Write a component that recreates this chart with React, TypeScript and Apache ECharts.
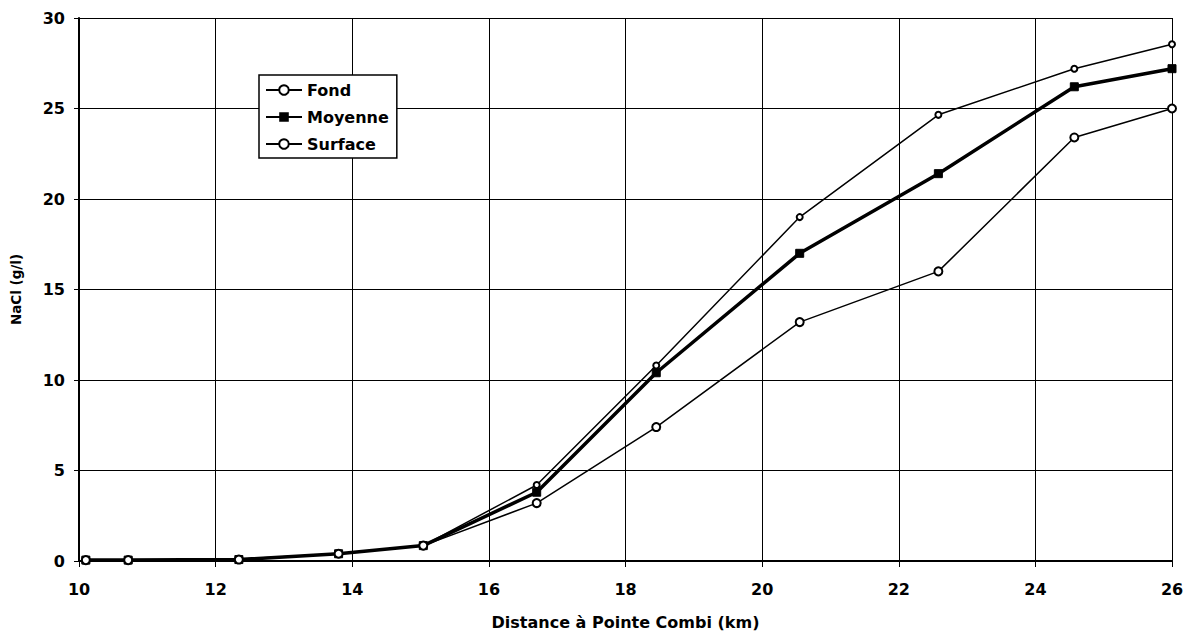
import React, { useEffect, useRef } from "react";
import * as echarts from "echarts";

const distances = [10.1, 10.72, 12.34, 13.8, 15.04, 16.7, 18.45, 20.55, 22.58, 24.57, 26.0];
const fond = [0.05, 0.05, 0.1, 0.4, 0.85, 4.2, 10.8, 19.0, 24.65, 27.2, 28.55];
const moyenne = [0.05, 0.05, 0.08, 0.4, 0.85, 3.8, 10.4, 17.0, 21.4, 26.2, 27.2];
const surface = [0.05, 0.05, 0.08, 0.4, 0.85, 3.2, 7.4, 13.2, 16.0, 23.4, 25.0];

const seriesNames = ["Fond", "Moyenne", "Surface"];
const xTitle = "Distance à Pointe Combi (km)";
const yTitle = "NaCl (g/l)";

const FONT = "'DejaVu Sans', 'Liberation Sans', Arial, sans-serif";

export default function App() {
  const ref = useRef<HTMLDivElement>(null);
  useEffect(() => {
    if (!ref.current) return;
    const chart = echarts.init(ref.current, null, { renderer: "svg" });
    const pair = (ys: number[]) => distances.map((x, i) => [x, ys[i]]);
    chart.setOption({
      animation: false,
      backgroundColor: "#fff",
      textStyle: { fontFamily: FONT, color: "#000" },
      grid: { left: 79, right: 20, top: 18, bottom: 77 },
      legend: {
        orient: "vertical",
        left: 259,
        top: 75,
        data: seriesNames,
        backgroundColor: "#fff",
        borderColor: "#000",
        borderWidth: 1.5,
        padding: [7, 8, 6, 6],
        itemGap: 11,
        itemWidth: 36,
        itemHeight: 12,
        textStyle: { fontFamily: FONT, fontWeight: "bold", fontSize: 16, color: "#000" },
      },
      xAxis: {
        type: "value",
        min: 10,
        max: 26,
        interval: 2,
        name: xTitle,
        nameLocation: "middle",
        nameGap: 53,
        nameTextStyle: { fontFamily: FONT, fontWeight: "bold", fontSize: 16, color: "#000" },
        axisLine: { lineStyle: { color: "#000", width: 2 } },
        axisTick: { show: true, length: 6, lineStyle: { color: "#000", width: 1 } },
        axisLabel: { fontFamily: FONT, fontWeight: "bold", fontSize: 16, color: "#000", margin: 20 },
        splitLine: { show: true, lineStyle: { color: "#000", width: 1 } },
      },
      yAxis: {
        type: "value",
        min: 0,
        max: 30,
        interval: 5,
        name: yTitle,
        nameLocation: "middle",
        nameGap: 56,
        nameTextStyle: { fontFamily: FONT, fontWeight: "bold", fontSize: 13.5, color: "#000" },
        axisLine: { show: true, lineStyle: { color: "#000", width: 2 } },
        axisTick: { show: true, length: 5, lineStyle: { color: "#000", width: 1 } },
        axisLabel: { fontFamily: FONT, fontWeight: "bold", fontSize: 16, color: "#000", margin: 14 },
        splitLine: { show: true, lineStyle: { color: "#000", width: 1 } },
      },
      series: [
        {
          name: seriesNames[0],
          type: "line",
          data: pair(fond),
          symbol: "emptyCircle",
          symbolSize: 6,
          lineStyle: { color: "#000", width: 1.5 },
          itemStyle: { color: "#000", borderColor: "#000", borderWidth: 1.5 },
          z: 3,
        },
        {
          name: seriesNames[1],
          type: "line",
          data: pair(moyenne),
          symbol: "rect",
          symbolSize: 8,
          lineStyle: { color: "#000", width: 3.5 },
          itemStyle: { color: "#000", borderColor: "#000" },
          z: 2,
        },
        {
          name: seriesNames[2],
          type: "line",
          data: pair(surface),
          symbol: "emptyCircle",
          symbolSize: 8,
          lineStyle: { color: "#000", width: 1.5 },
          itemStyle: { color: "#000", borderColor: "#000", borderWidth: 1.5 },
          z: 4,
        },
      ],
    });
    return () => chart.dispose();
  }, []);
  return (
    <div
      ref={ref}
      style={{ position: "fixed", left: 0, top: 0, width: 1192, height: 638, background: "#fff" }}
    />
  );
}
